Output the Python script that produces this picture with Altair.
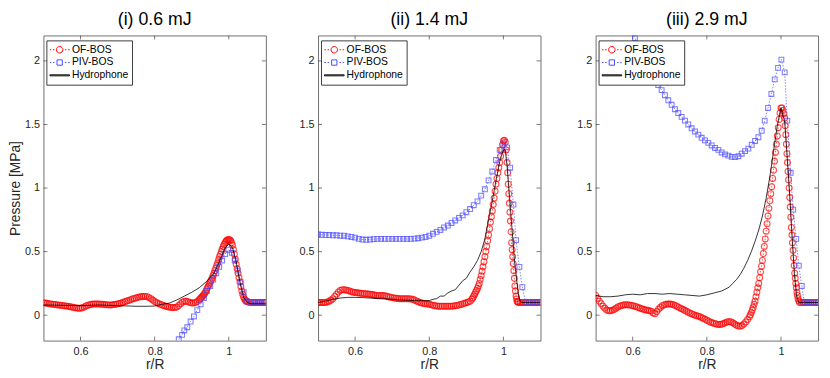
import altair as alt
import pandas as pd

TITLES = ["(i) 0.6 mJ", "(ii) 1.4 mJ", "(iii) 2.9 mJ"]
SERIES = ["OF-BOS", "PIV-BOS", "Hydrophone"]
COLORS = ["#ff0000", "#4a4aff", "#000000"]
X_TICKS = [0.6, 0.8, 1.0]
Y_TICKS = [0, 0.5, 1, 1.5, 2]
X_DOMAIN = [0.5, 1.1]
Y_DOMAIN = [-0.2, 2.2]

# ---------------- panel (i) 0.6 mJ : (r/R, pressure) pairs ----------------
OF1 = [(0.500, .098), (0.505, .096), (0.510, .093), (0.515, .090), (0.520, .088), (0.525, .086),
       (0.530, .084), (0.535, .082), (0.540, .080), (0.545, .078), (0.550, .077), (0.555, .075),
       (0.560, .073), (0.565, .070), (0.570, .068), (0.575, .065), (0.580, .062), (0.585, .059),
       (0.590, .057), (0.595, .055), (0.600, .055), (0.605, .059), (0.610, .065), (0.615, .072),
       (0.620, .078), (0.625, .082), (0.630, .085), (0.635, .087), (0.640, .088), (0.645, .088),
       (0.650, .087), (0.655, .086), (0.660, .085), (0.665, .083), (0.670, .082), (0.675, .081),
       (0.680, .080), (0.685, .081), (0.690, .083), (0.695, .085), (0.700, .088), (0.705, .092),
       (0.710, .096), (0.715, .101), (0.720, .106), (0.725, .111), (0.730, .116), (0.735, .121),
       (0.740, .127), (0.745, .132), (0.750, .136), (0.755, .140), (0.760, .143), (0.765, .146),
       (0.770, .147), (0.775, .147), (0.780, .145), (0.785, .138), (0.790, .130), (0.795, .119),
       (0.800, .108), (0.805, .099), (0.810, .092), (0.815, .086), (0.820, .080), (0.825, .075),
       (0.830, .070), (0.835, .066), (0.840, .062), (0.845, .060), (0.850, .060), (0.855, .061),
       (0.860, .065), (0.865, .076), (0.870, .090), (0.875, .102), (0.880, .110), (0.885, .109),
       (0.890, .105), (0.895, .099), (0.900, .095), (0.905, .096), (0.910, .100), (0.915, .108),
       (0.920, .120), (0.9225, .127), (0.925, .135), (0.9275, .142), (0.930, .150), (0.9325, .160),
       (0.935, .170), (0.9375, .185), (0.940, .200), (0.9425, .215), (0.945, .230), (0.9475, .245),
       (0.950, .260), (0.9525, .275), (0.955, .290), (0.9575, .310), (0.960, .330), (0.9625, .350),
       (0.965, .370), (0.9675, .390), (0.970, .410), (0.9725, .435), (0.975, .460), (0.9775, .480),
       (0.980, .500), (0.9825, .520), (0.985, .540), (0.9875, .556), (0.990, .570), (0.9925, .581),
       (0.995, .590), (0.9975, .594), (1.000, .595), (1.0025, .592), (1.005, .585), (1.0075, .570),
       (1.010, .550), (1.0125, .516), (1.015, .480), (1.0175, .440), (1.020, .400), (1.0225, .365),
       (1.025, .330), (1.0275, .295), (1.030, .260), (1.0325, .225), (1.035, .190), (1.0375, .163),
       (1.040, .140), (1.0425, .126), (1.045, .115), (1.0475, .109), (1.050, .105), (1.055, .102),
       (1.060, .100), (1.065, .100), (1.070, .100), (1.075, .100), (1.080, .100), (1.085, .100),
       (1.090, .100), (1.095, .100), (1.100, .100)]
PIV1 = [(0.865, -.19), (0.874, -.155), (0.880, -.12), (0.888, -.095), (0.897, -.05), (0.906, -.01),
        (0.915, .04), (0.924, .085), (0.933, .135), (0.941, .19), (0.950, .23), (0.958, .28),
        (0.966, .33), (0.974, .38), (0.982, .43), (0.990, .48), (0.999, .515), (1.008, .49),
        (1.016, .43), (1.024, .35), (1.032, .26), (1.040, .18), (1.048, .11), (1.058, .10),
        (1.068, .10), (1.078, .10), (1.088, .10), (1.098, .10)]
HY1 = [(0.50, .080), (0.55, .078), (0.60, .075), (0.65, .080), (0.70, .075), (0.75, .070),
       (0.78, .070), (0.80, .072), (0.82, .085), (0.84, .095), (0.86, .120), (0.88, .150),
       (0.90, .180), (0.92, .215), (0.94, .265), (0.96, .330), (0.97, .390), (0.98, .460),
       (0.99, .530), (1.00, .560), (1.01, .530), (1.02, .420), (1.03, .260), (1.04, .140),
       (1.05, .100), (1.06, .090), (1.10, .090)]

# ---------------- panel (ii) 1.4 mJ ----------------
OF2 = [(0.500, .100), (0.505, .100), (0.510, .100), (0.515, .100), (0.520, .100), (0.525, .104),
       (0.530, .110), (0.535, .119), (0.540, .130), (0.545, .147), (0.550, .165), (0.555, .182),
       (0.560, .195), (0.565, .200), (0.570, .200), (0.575, .198), (0.580, .195), (0.585, .190),
       (0.590, .185), (0.595, .181), (0.600, .178), (0.605, .176), (0.610, .175), (0.615, .172),
       (0.620, .170), (0.625, .169), (0.630, .168), (0.635, .166), (0.640, .165), (0.645, .162),
       (0.650, .160), (0.655, .157), (0.660, .155), (0.665, .155), (0.670, .155), (0.675, .154),
       (0.680, .152), (0.685, .149), (0.690, .145), (0.695, .141), (0.700, .138), (0.705, .135),
       (0.710, .133), (0.715, .131), (0.720, .130), (0.725, .130), (0.730, .130), (0.735, .130),
       (0.740, .130), (0.745, .129), (0.750, .128), (0.755, .125), (0.760, .120), (0.765, .112),
       (0.770, .105), (0.775, .099), (0.780, .095), (0.785, .092), (0.790, .090), (0.795, .087),
       (0.800, .085), (0.805, .081), (0.810, .078), (0.815, .075), (0.820, .073), (0.825, .071),
       (0.830, .070), (0.835, .070), (0.840, .070), (0.845, .070), (0.850, .070), (0.855, .070),
       (0.860, .070), (0.865, .072), (0.870, .075), (0.875, .077), (0.880, .080), (0.885, .084),
       (0.890, .088), (0.895, .093), (0.900, .098), (0.905, .104), (0.910, .110), (0.915, .125),
       (0.9175, .136), (0.920, .150), (0.9225, .165), (0.925, .180), (0.9275, .195), (0.930, .210),
       (0.9325, .230), (0.935, .250), (0.9375, .280), (0.940, .310), (0.9425, .345), (0.945, .380),
       (0.9475, .420), (0.950, .460), (0.9525, .500), (0.955, .540), (0.9575, .585), (0.960, .630),
       (0.9625, .680), (0.965, .730), (0.9675, .775), (0.970, .820), (0.9725, .870), (0.975, .920),
       (0.9775, .975), (0.980, 1.030), (0.9825, 1.075), (0.985, 1.120), (0.9875, 1.160),
       (0.990, 1.200), (0.9925, 1.250), (0.995, 1.300), (0.9975, 1.340), (1.000, 1.370),
       (1.0025, 1.375), (1.005, 1.360), (1.0075, 1.300), (1.010, 1.200), (1.0115, 1.120),
       (1.013, 1.030), (1.0145, .955), (1.016, .880), (1.0175, .810), (1.019, .740), (1.0205, .655),
       (1.022, .570), (1.0235, .515), (1.025, .460), (1.0265, .405), (1.028, .350), (1.0295, .290),
       (1.031, .230), (1.0325, .190), (1.034, .150), (1.0355, .128), (1.037, .110), (1.0385, .104),
       (1.040, .100), (1.045, .100), (1.050, .100), (1.055, .100), (1.060, .100), (1.065, .100),
       (1.070, .100), (1.075, .100), (1.080, .100), (1.085, .100), (1.090, .100), (1.095, .100),
       (1.100, .100)]
PIV2 = [(0.50, .635), (0.51, .632), (0.52, .630), (0.53, .630), (0.54, .628), (0.55, .628),
        (0.56, .625), (0.57, .625), (0.58, .620), (0.59, .615), (0.60, .610), (0.61, .600),
        (0.62, .595), (0.63, .593), (0.64, .595), (0.65, .598), (0.66, .600), (0.67, .600),
        (0.68, .600), (0.69, .600), (0.70, .600), (0.71, .600), (0.72, .600), (0.73, .600),
        (0.74, .600), (0.75, .600), (0.76, .602), (0.77, .605), (0.78, .610), (0.79, .615),
        (0.80, .625), (0.81, .640), (0.82, .655), (0.83, .670), (0.84, .690), (0.85, .705),
        (0.86, .725), (0.87, .745), (0.88, .765), (0.89, .785), (0.90, .810), (0.91, .835),
        (0.92, .865), (0.93, .895), (0.94, .940), (0.95, .990), (0.96, 1.060), (0.97, 1.130),
        (0.98, 1.220), (0.99, 1.300), (1.00, 1.350), (1.01, 1.320), (1.018, 1.160), (1.027, .870),
        (1.034, .590), (1.043, .380), (1.051, .220), (1.06, .100), (1.07, .100), (1.08, .100),
        (1.09, .100), (1.10, .100)]
HY2 = [(0.50, .100), (0.52, .110), (0.54, .125), (0.56, .135), (0.58, .140), (0.60, .140),
       (0.62, .138), (0.64, .135), (0.66, .130), (0.68, .128), (0.70, .125), (0.72, .120),
       (0.74, .118), (0.76, .115), (0.78, .113), (0.80, .115), (0.81, .125), (0.82, .130),
       (0.83, .150), (0.84, .150), (0.85, .175), (0.86, .190), (0.87, .200), (0.88, .235),
       (0.89, .270), (0.90, .290), (0.91, .340), (0.92, .380), (0.93, .430), (0.94, .500),
       (0.95, .600), (0.96, .750), (0.97, .900), (0.98, 1.060), (0.99, 1.210), (1.00, 1.300),
       (1.005, 1.300), (1.01, 1.170), (1.02, .800), (1.03, .420), (1.04, .170), (1.045, .110),
       (1.05, .100), (1.06, .100), (1.10, .100)]

# ---------------- panel (iii) 2.9 mJ ----------------
OF3 = [(0.500, .155), (0.505, .132), (0.510, .110), (0.515, .090), (0.520, .070), (0.525, .054),
       (0.530, .040), (0.535, .035), (0.540, .034), (0.545, .038), (0.550, .045), (0.555, .055),
       (0.560, .065), (0.565, .071), (0.570, .077), (0.575, .080), (0.580, .082), (0.585, .082),
       (0.590, .080), (0.595, .078), (0.600, .075), (0.605, .071), (0.610, .066), (0.615, .060),
       (0.620, .055), (0.625, .050), (0.630, .045), (0.635, .041), (0.640, .038), (0.645, .034),
       (0.650, .030), (0.655, .018), (0.660, .012), (0.665, .028), (0.670, .048), (0.675, .063),
       (0.680, .075), (0.685, .081), (0.690, .085), (0.695, .087), (0.700, .087), (0.705, .085),
       (0.710, .082), (0.715, .076), (0.720, .068), (0.725, .061), (0.730, .053), (0.735, .046),
       (0.740, .038), (0.745, .031), (0.750, .023), (0.755, .016), (0.760, .010), (0.765, .003),
       (0.770, -.003), (0.775, -.007), (0.780, -.010), (0.785, -.018), (0.790, -.025),
       (0.795, -.032), (0.800, -.040), (0.805, -.048), (0.810, -.055), (0.815, -.060),
       (0.820, -.065), (0.825, -.069), (0.830, -.073), (0.835, -.073), (0.840, -.072),
       (0.845, -.066), (0.850, -.060), (0.855, -.054), (0.860, -.050), (0.865, -.054),
       (0.870, -.060), (0.875, -.070), (0.880, -.080), (0.885, -.085), (0.890, -.088),
       (0.895, -.082), (0.900, -.070), (0.905, -.054), (0.910, -.035), (0.915, -.012),
       (0.9175, .003), (0.920, .020), (0.9225, .040), (0.925, .060), (0.9275, .085), (0.930, .110),
       (0.9325, .145), (0.935, .180), (0.9375, .215), (0.940, .250), (0.9425, .295), (0.945, .340),
       (0.9475, .385), (0.950, .430), (0.9525, .485), (0.955, .540), (0.9575, .600), (0.960, .660),
       (0.9625, .720), (0.965, .780), (0.9675, .840), (0.970, .900), (0.9725, .955), (0.975, 1.010),
       (0.9775, 1.075), (0.980, 1.140), (0.9825, 1.210), (0.985, 1.280), (0.9875, 1.345),
       (0.990, 1.410), (0.9925, 1.475), (0.995, 1.540), (0.9975, 1.590), (1.000, 1.630),
       (1.0025, 1.630), (1.005, 1.610), (1.0075, 1.585), (1.010, 1.550), (1.0115, 1.490),
       (1.013, 1.420), (1.0145, 1.345), (1.016, 1.270), (1.0175, 1.200), (1.019, 1.130),
       (1.0205, 1.065), (1.022, 1.000), (1.0235, .925), (1.025, .850), (1.0265, .770),
       (1.028, .690), (1.0295, .630), (1.031, .570), (1.0325, .510), (1.034, .450), (1.0355, .390),
       (1.037, .330), (1.0385, .290), (1.040, .250), (1.0415, .215), (1.043, .180), (1.0445, .155),
       (1.046, .130), (1.048, .112), (1.050, .100), (1.055, .100), (1.060, .100), (1.065, .100),
       (1.070, .100), (1.075, .100), (1.080, .100), (1.085, .100), (1.090, .100), (1.095, .100),
       (1.100, .100)]
PIV3 = [(0.597, 2.24), (0.606, 2.18), (0.615, 2.12), (0.624, 2.06), (0.633, 2.00), (0.642, 1.95),
        (0.651, 1.90), (0.660, 1.86), (0.669, 1.81), (0.678, 1.77), (0.687, 1.73), (0.696, 1.69),
        (0.705, 1.655), (0.714, 1.62), (0.723, 1.59), (0.732, 1.56), (0.741, 1.53), (0.750, 1.50),
        (0.759, 1.47), (0.768, 1.445), (0.777, 1.42), (0.786, 1.395), (0.795, 1.375),
        (0.804, 1.355), (0.813, 1.335), (0.822, 1.315), (0.831, 1.30), (0.840, 1.28),
        (0.849, 1.265), (0.858, 1.255), (0.867, 1.245), (0.876, 1.243), (0.885, 1.25),
        (0.894, 1.27), (0.903, 1.29), (0.912, 1.31), (0.921, 1.34), (0.930, 1.37), (0.939, 1.40),
        (0.948, 1.45), (0.956, 1.53), (0.965, 1.63), (0.974, 1.74), (0.983, 1.855), (0.992, 1.945),
        (1.001, 2.01), (1.010, 1.91), (1.017, 1.53), (1.026, 1.12), (1.033, .83), (1.041, .60),
        (1.048, .39), (1.056, .23), (1.063, .10), (1.072, .10), (1.081, .10), (1.090, .10),
        (1.099, .10)]
HY3 = [(0.50, .155), (0.52, .145), (0.54, .145), (0.56, .150), (0.58, .160), (0.60, .165),
       (0.62, .160), (0.64, .170), (0.66, .170), (0.68, .165), (0.70, .170), (0.72, .165),
       (0.74, .160), (0.76, .155), (0.78, .150), (0.80, .160), (0.82, .175), (0.84, .190),
       (0.86, .220), (0.87, .250), (0.88, .280), (0.89, .320), (0.90, .370), (0.91, .430),
       (0.92, .500), (0.93, .580), (0.94, .670), (0.95, .780), (0.96, .920), (0.97, 1.090),
       (0.98, 1.290), (0.99, 1.490), (1.00, 1.630), (1.01, 1.520), (1.017, 1.235), (1.024, .925),
       (1.030, .615), (1.036, .330), (1.042, .150), (1.048, .100), (1.06, .100), (1.10, .100)]

PANELS = [(OF1, PIV1, HY1), (OF2, PIV2, HY2), (OF3, PIV3, HY3)]

# legend sample symbols (MATLAB-like dotted line with marker, thick solid line)
LEGEND_SHAPES = [
    "M-1,0H-0.85M-0.68,0H-0.53M0.53,0H0.68M0.85,0H1M0.33,0A0.33,0.33,0,1,1,-0.33,0A0.33,0.33,0,1,1,0.33,0",
    "M-1,0H-0.85M-0.68,0H-0.53M0.53,0H0.68M0.85,0H1M-0.27,-0.27H0.27V0.27H-0.27Z",
    "M-1,-0.05H1V0.05H-1Z",
]

W, H = 226, 310
FONT = "Liberation Sans"


def frame(pairs):
    return pd.DataFrame(pairs, columns=["x", "y"])


def panel(idx):
    of, pv, hy = (frame(p) for p in PANELS[idx])
    xs = alt.Scale(domain=X_DOMAIN, nice=False, zero=False)
    ys = alt.Scale(domain=Y_DOMAIN, nice=False, zero=False)
    xax = alt.Axis(values=X_TICKS, format="~g", title="r/R", domain=False, ticks=False,
                   tickSize=0, labelPadding=5, titlePadding=1, grid=False)
    if idx == 0:
        yax = alt.Axis(values=Y_TICKS, format="~g", title="Pressure [MPa]", domain=False,
                       ticks=False, tickSize=0, labelPadding=4, titlePadding=2, grid=False)
    else:
        yax = alt.Axis(values=Y_TICKS, format="~g", title=None, domain=False,
                       ticks=False, tickSize=0, labelPadding=4, grid=False)
    X = lambda f: alt.X(f + ":Q", scale=xs, axis=xax)
    Y = lambda f: alt.Y(f + ":Q", scale=ys, axis=yax)

    of_line = alt.Chart(of).mark_line(color=COLORS[0], strokeWidth=0.7, strokeDash=[1.5, 1.5],
                                      clip=True).encode(x=X("x"), y=Y("y"))
    of_pts = alt.Chart(of).mark_point(shape="circle", filled=False, size=36, strokeWidth=1.1,
                                      color=COLORS[0], clip=True).encode(x=X("x"), y=Y("y"))
    pv_line = alt.Chart(pv).mark_line(color=COLORS[1], strokeWidth=0.7, strokeDash=[1.5, 1.5],
                                      clip=True).encode(x=X("x"), y=Y("y"))
    pv_pts = alt.Chart(pv).mark_point(shape="square", filled=False, size=24, strokeWidth=1.1,
                                      color=COLORS[1], clip=True).encode(x=X("x"), y=Y("y"))
    hy_line = alt.Chart(hy).mark_line(color=COLORS[2], strokeWidth=0.8,
                                      clip=True).encode(x=X("x"), y=Y("y"))

    xt = pd.DataFrame({"t": X_TICKS})
    yt = pd.DataFrame({"t": Y_TICKS})
    tick_col = "#555555"
    xt_bot = alt.Chart(xt).mark_rule(color=tick_col, strokeWidth=0.8).encode(
        x=X("t"), y=alt.value(H), y2=alt.value(H - 4))
    xt_top = alt.Chart(xt).mark_rule(color=tick_col, strokeWidth=0.8).encode(
        x=X("t"), y=alt.value(0), y2=alt.value(4))
    yt_left = alt.Chart(yt).mark_rule(color=tick_col, strokeWidth=0.8).encode(
        y=Y("t"), x=alt.value(0), x2=alt.value(4))
    yt_right = alt.Chart(yt).mark_rule(color=tick_col, strokeWidth=0.8).encode(
        y=Y("t"), x=alt.value(W - 4), x2=alt.value(W))

    leg_df = pd.DataFrame({"series": SERIES,
                           "x": [of.x.iloc[-1], pv.x.iloc[-1], hy.x.iloc[-1]],
                           "y": [of.y.iloc[-1], pv.y.iloc[-1], hy.y.iloc[-1]]})
    leg_kw = dict(title=None, orient="none", legendX=3, legendY=5, fillColor="white",
                  strokeColor="#3c3c3c", padding=3, symbolSize=400, symbolStrokeWidth=1,
                  symbolOpacity=1, labelFontSize=10.5, labelFont=FONT, labelColor="#000000",
                  clipHeight=13, rowPadding=0, labelOffset=2, cornerRadius=0)
    legend = alt.Chart(leg_df).mark_point(filled=False, opacity=0).encode(
        x=X("x"), y=Y("y"),
        color=alt.Color("series:N", scale=alt.Scale(domain=SERIES, range=COLORS),
                        legend=alt.Legend(**leg_kw)),
        shape=alt.Shape("series:N", scale=alt.Scale(domain=SERIES, range=LEGEND_SHAPES),
                        legend=alt.Legend(**leg_kw)),
    )

    return alt.layer(xt_bot, xt_top, yt_left, yt_right,
                     of_line, of_pts, pv_line, pv_pts, hy_line, legend).properties(
        width=W, height=H,
        title=alt.TitleParams(TITLES[idx], fontSize=18, fontWeight="normal", font=FONT,
                              color="#000000", offset=6, frame="group", anchor="middle"),
    )


p1, p2, p3 = panel(0), panel(1), panel(2)

inner = alt.hconcat(p2, p3, spacing=32).resolve_scale(color="independent", shape="independent")
chart = alt.hconcat(p1, inner, spacing=29).resolve_scale(
    color="independent", shape="independent"
).properties(
    padding={"left": 0, "top": 0, "right": 0, "bottom": -3}, background="white"
).configure_view(
    stroke="#6e6e6e", strokeWidth=1
).configure_axis(
    labelFont=FONT, titleFont=FONT, labelFontSize=11, titleFontSize=14,
    titleFontWeight="normal", labelColor="#262626", titleColor="#262626"
)

chart.save("out.html", embed_options={"renderer": "svg", "actions": False})
